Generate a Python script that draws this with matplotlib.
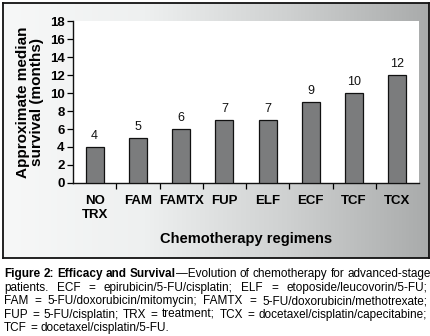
import numpy as np
import matplotlib
matplotlib.use('Agg')
import matplotlib.pyplot as plt
from matplotlib.colors import LinearSegmentedColormap

plt.rcParams['font.family'] = ['Liberation Sans', 'DejaVu Sans']

# data
regimens = ['NO\nTRX', 'FAM', 'FAMTX', 'FUP', 'ELF', 'ECF', 'TCF', 'TCX']
survival = [4, 5, 6, 7, 7, 9, 10, 12]
yticks = list(range(0, 19, 2))

caption_bold = 'Figure 2: Efficacy and Survival'
caption_lines = [
    '\u2014Evolution of chemotherapy for advanced-stage',
    'patients. ECF = epirubicin/5-FU/cisplatin; ELF = etoposide/leucovorin/5-FU;',
    'FAM = 5-FU/doxorubicin/mitomycin; FAMTX = 5-FU/doxorubicin/methotrexate;',
    'FUP = 5-FU/cisplatin; TRX = treatment; TCX = docetaxel/cisplatin/capecitabine;',
    'TCF = docetaxel/cisplatin/5-FU.',
]

W, H = 431, 336
fig = plt.figure(figsize=(W / 100, H / 100), dpi=100)

# gradient panel behind the chart
bg = fig.add_axes([3 / W, 1 - 258 / H, 426 / W, 255 / H])
cmap = LinearSegmentedColormap.from_list('panel', ['#f7f8f8', '#eef0f0', '#cfd1d1', '#a9abab'])
grad = np.linspace(0, 1, 256).reshape(1, -1)
bg.imshow(grad, aspect='auto', cmap=cmap, extent=[0, 1, 0, 1])
bg.set_xticks([])
bg.set_yticks([])
for s in bg.spines.values():
    s.set_linewidth(1.3)
    s.set_color('#111111')

# chart
ax = fig.add_axes([73 / W, 1 - 183 / H, 346 / W, 162 / H])
ax.set_facecolor('white')
x = np.arange(len(regimens))
ax.bar(x, survival, width=0.42, color='#7b7c7d', edgecolor='#111111', linewidth=0.9, zorder=3)
for xi, v in zip(x, survival):
    ax.text(xi, v + 0.6, str(v), ha='center', va='bottom', fontsize=9, color='#111111')

ax.set_xlim(-0.5, len(regimens) - 0.5)
ax.set_ylim(0, 18)
ax.set_yticks(yticks)
ax.set_yticklabels([str(t) for t in yticks], fontsize=9.5, fontweight='bold')
ax.set_xticks(x)
ax.set_xticklabels(regimens, fontsize=9.5, fontweight='bold', linespacing=1.2)
ax.tick_params(axis='x', length=0, pad=9)
ax.set_xticks(x[:-1] + 0.5, minor=True)
ax.tick_params(axis='x', which='minor', length=4, width=0.9, direction='out')
ax.tick_params(axis='y', length=4, width=0.9, direction='out', pad=2)
for side in ['top', 'right']:
    ax.spines[side].set_visible(False)
for side in ['left', 'bottom']:
    ax.spines[side].set_linewidth(1.0)
    ax.spines[side].set_color('#111111')

ax.set_ylabel('Approximate median\nsurvival (months)', fontsize=11, fontweight='bold',
              linespacing=1.0, labelpad=4)
ax.set_xlabel('Chemotherapy regimens', fontsize=10.5, fontweight='bold', labelpad=8)

# caption under the panel, justified like the printed figure
fs = 8.5
left, right = 4, 427
y0 = 1 - 274 / H
dy = 13.6 / H

words0 = [[(w, 'bold')] for w in caption_bold.split()]
rest = caption_lines[0].split()
words0[-1].append((rest[0], 'normal'))
words0 += [[(w, 'normal')] for w in rest[1:]]
para = [words0] + [[[(w, 'normal')] for w in ln.split()] for ln in caption_lines[1:]]

# put every word on the figure first, measure after a draw, then place
placed = []
for i, words in enumerate(para):
    row = []
    for word in words:
        row.append([fig.text(0, y0 - i * dy, s, fontsize=fs, fontweight=wt, va='center')
                    for s, wt in word])
    placed.append(row)
probe_a = fig.text(0, 0, 'a b', fontsize=fs)
probe_b = fig.text(0, 0, 'ab', fontsize=fs)
fig.canvas.draw()
space = probe_a.get_window_extent().width - probe_b.get_window_extent().width
probe_a.remove()
probe_b.remove()

for i, row in enumerate(placed):
    widths = [[t.get_window_extent().width for t in word] for word in row]
    total = sum(sum(ws) for ws in widths)
    if i < len(placed) - 1:
        gap = max((right - left - total) / (len(row) - 1), space)
    else:
        gap = space
    xpos = left
    for word, ws in zip(row, widths):
        for t, w in zip(word, ws):
            t.set_x(xpos / W)
            xpos += w
        xpos += gap

fig.savefig('out.png', dpi=100)
